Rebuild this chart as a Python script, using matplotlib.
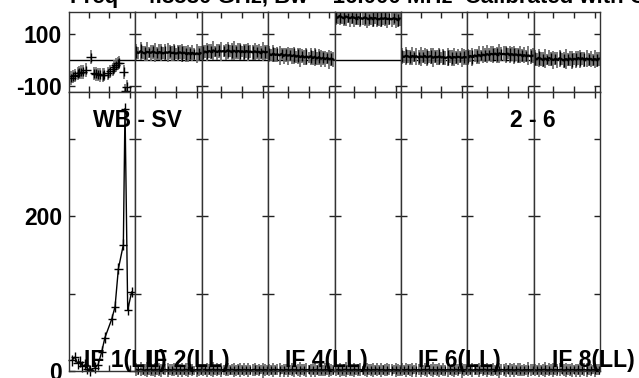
import numpy as np
import matplotlib
matplotlib.use("Agg")
import matplotlib.pyplot as plt

# --- data (8 IFs, 32 channels each) ---
if_names = ["IF 1(LL)", "IF 2(LL)", "IF 3(LL)", "IF 4(LL)",
            "IF 5(LL)", "IF 6(LL)", "IF 7(LL)", "IF 8(LL)"]
channels = np.arange(1, 33)

# IF 1 is odd: few points, big peak near the band edge
if1_amp_chan = [2.0, 3.4, 4.6, 5.8, 7.0, 8.2, 9.4, 10.6, 13.0, 14.5, 16.3, 17.8,
                21.1, 22.7, 24.3, 26.7, 27.5, 28.8, 30.7]
if1_amp = [14, 18, 10, 12, 6, 8, 3, 1, 4, 8, 25, 43, 67, 83, 132, 163, 339, 79, 102]
if1_ph_chan = [1.5, 2.5, 3.5, 4.7, 5.5, 6.5, 7.1, 8.7, 11.1, 12.7, 13.5, 14.3, 15.5,
               16.7, 17.5, 19.1, 20.3, 21.5, 22.3, 23.1, 24.0, 24.7, 26.9, 28.4, 27.6]
if1_phase = [-68, -62, -58, -50, -47, -45, -44, -37, 12, -50, -52, -54, -56, -57, -55,
             -50, -42, -35, -26, -18, -12, -9, -44, -101, -118]

phase_if2 = [32, 28, 35, 30, 27, 33, 31, 29, 34, 30, 28, 32, 30, 27, 31, 29,
             33, 28, 30, 26, 29, 31, 27, 30, 25, 28, 26, 29, 24, 27, 25, 28]
phase_if3 = [30, 34, 31, 36, 33, 38, 35, 32, 37, 34, 36, 33, 38, 35, 34, 37,
             33, 36, 34, 35, 32, 36, 33, 34, 31, 35, 32, 33, 30, 34, 31, 32]
phase_if4 = [24, 20, 26, 21, 23, 19, 25, 17, 22, 18, 21, 16, 20, 14, 18, 12,
             17, 11, 15, 10, 16, 8, 14, 7, 12, 6, 10, 5, 9, 4, 7, 3]
phase_if5 = [168, 164, 171, 166, 163, 169, 165, 162, 167, 164, 161, 166, 163, 160, 165, 162,
             159, 164, 161, 163, 160, 158, 162, 160, 163, 159, 161, 158, 162, 160, 157, 161]
phase_if6 = [16, 13, 18, 15, 12, 17, 14, 16, 11, 15, 13, 17, 12, 14, 16, 10,
             14, 12, 15, 11, 13, 9, 12, 14, 10, 13, 11, 14, 12, 10, 13, 12]
phase_if7 = [14, 17, 13, 19, 16, 21, 18, 22, 20, 24, 21, 25, 23, 26, 22, 27,
             24, 25, 23, 26, 22, 24, 21, 23, 19, 22, 18, 20, 17, 19, 16, 18]
phase_if8 = [8, 4, 10, 6, 2, 7, 3, 9, 5, 1, 6, 2, 8, 4, 0, 5,
             3, 7, 2, 6, 4, 9, 5, 8, 3, 7, 4, 6, 2, 5, 3, 6]

amp_if2 = [1.8, 1.2, 2.1, 1.5, 0.9, 1.7, 1.3, 2.0, 1.1, 1.6, 1.4, 1.9, 1.0, 1.5, 1.8, 1.2,
           1.6, 1.1, 1.9, 1.4, 1.3, 1.7, 1.0, 1.5, 1.8, 1.2, 1.6, 1.4, 1.1, 1.7, 1.3, 1.5]
amp_if3 = [1.4, 1.9, 1.1, 1.6, 1.3, 2.0, 1.2, 1.7, 1.5, 1.0, 1.8, 1.3, 1.6, 1.2, 1.9, 1.4,
           1.1, 1.7, 1.5, 1.2, 1.8, 1.3, 1.6, 1.0, 1.5, 1.9, 1.2, 1.4, 1.7, 1.1, 1.6, 1.3]
amp_if4 = [1.6, 1.1, 1.8, 1.3, 1.9, 1.2, 1.5, 1.0, 1.7, 1.4, 1.2, 1.8, 1.3, 1.6, 1.1, 1.5,
           1.9, 1.2, 1.4, 1.7, 1.0, 1.6, 1.3, 1.8, 1.2, 1.5, 1.1, 1.7, 1.4, 1.2, 1.6, 1.3]
amp_if5 = [1.2, 1.7, 1.4, 1.0, 1.6, 1.9, 1.3, 1.5, 1.1, 1.8, 1.4, 1.2, 1.7, 1.0, 1.5, 1.3,
           1.8, 1.1, 1.6, 1.4, 1.9, 1.2, 1.5, 1.7, 1.0, 1.4, 1.6, 1.2, 1.8, 1.3, 1.5, 1.1]
amp_if6 = [1.7, 1.3, 1.5, 1.9, 1.1, 1.4, 1.8, 1.2, 1.6, 1.0, 1.5, 1.7, 1.3, 1.9, 1.2, 1.6,
           1.4, 1.0, 1.8, 1.3, 1.5, 1.1, 1.7, 1.4, 1.6, 1.2, 1.9, 1.3, 1.5, 1.0, 1.4, 1.7]
amp_if7 = [1.3, 1.8, 1.0, 1.5, 1.7, 1.2, 1.6, 1.4, 1.9, 1.1, 1.3, 1.6, 1.8, 1.2, 1.5, 1.0,
           1.7, 1.4, 1.2, 1.9, 1.3, 1.6, 1.1, 1.5, 1.8, 1.4, 1.0, 1.6, 1.3, 1.7, 1.2, 1.5]
amp_if8 = [1.5, 1.0, 1.7, 1.3, 1.6, 1.9, 1.2, 1.4, 1.8, 1.1, 1.6, 1.3, 1.5, 1.7, 1.0, 1.4,
           1.8, 1.2, 1.6, 1.5, 1.1, 1.9, 1.3, 1.4, 1.7, 1.2, 1.5, 1.0, 1.6, 1.3, 1.8, 1.4]

# shared error-bar lengths per channel (phase in deg, amplitude)
phase_err = [30, 24, 34, 26, 29, 36, 22, 32, 27, 35, 25, 30, 33, 23, 31, 37,
             26, 29, 34, 22, 32, 27, 35, 25, 30, 33, 26, 31, 24, 36, 29, 28]
amp_err = [8.0, 6.5, 9.0, 7.0, 7.5, 9.5, 6.0, 8.5, 7.0, 9.0, 6.5, 8.0, 8.5, 6.0, 7.5, 9.5,
           7.0, 7.5, 9.0, 6.0, 8.5, 7.0, 9.0, 6.5, 8.0, 8.5, 7.0, 8.0, 6.0, 9.5, 7.5, 7.0]

title = "Freq = 4.8580 GHz, Bw = 16.000 MHz  Calibrated with CL 2"
source_label = "WB - SV"
baseline_label = "2 - 6"
shown_labels = [0, 1, 3, 5, 7]  # the odd IF names are not drawn in the original

W, H = 639, 378
FONT = dict(family="Liberation Sans", weight="bold", size=16.5)
GREY = "#6e6e6e"


def fx(x):
    return x / W


def fy(y):
    return 1 - y / H


def style_axes(ax, yticks, ylabels, show_labels):
    ax.set_xlim(0.5, 32.5)
    ax.set_xticks([10, 20, 30])
    ax.set_yticks(yticks)
    ax.tick_params(axis="both", which="both", direction="in", length=4, width=1,
                   top=True, right=True, labelbottom=False, color="#222222")
    if show_labels:
        ax.set_yticklabels(ylabels, fontdict=FONT)
        ax.tick_params(axis="y", pad=5)
    else:
        ax.tick_params(axis="y", labelleft=False)
    for sp in ax.spines.values():
        sp.set_color("#333333")
        sp.set_linewidth(1)


def unclip(eb):
    for art in eb.lines[2]:
        art.set_clip_on(False)


def main():
    fig = plt.figure(figsize=(W / 100, H / 100), dpi=100)

    left = 69.0
    pw = (600.0 - 69.0) / 8
    top_y0, top_y1 = 12.3, 92.3
    bot_y1 = 371.0

    phases = [None, phase_if2, phase_if3, phase_if4, phase_if5, phase_if6, phase_if7, phase_if8]
    amps = [None, amp_if2, amp_if3, amp_if4, amp_if5, amp_if6, amp_if7, amp_if8]

    for i in range(8):
        x0 = left + i * pw
        ax_ph = fig.add_axes([fx(x0), fy(top_y1), pw / W, (top_y1 - top_y0) / H])
        ax_am = fig.add_axes([fx(x0), fy(bot_y1), pw / W, (bot_y1 - top_y1) / H])

        ax_ph.axhline(0, color="black", lw=1, zorder=1)

        if i == 0:
            # phase: loose crosses, fairly dense
            ax_ph.errorbar(if1_ph_chan, if1_phase, yerr=26, fmt="none",
                           ecolor=GREY, elinewidth=1.2, capsize=0)
            ax_ph.errorbar(if1_ph_chan, if1_phase, yerr=17, xerr=2.2, fmt="none",
                           ecolor="black", elinewidth=1.0, capsize=0)
            # amplitude: connected crosses
            ax_am.plot(if1_amp_chan, if1_amp, color="black", lw=1)
            eb = ax_am.errorbar(if1_amp_chan, if1_amp, yerr=7, xerr=2.0, fmt="none",
                                ecolor="black", elinewidth=1.0, capsize=0)
            unclip(eb)
        else:
            ph = phases[i]
            am = amps[i]
            ax_ph.errorbar(channels, ph, yerr=phase_err, fmt="none", ecolor=GREY,
                           elinewidth=1.3, capsize=0)
            ax_ph.errorbar(channels[::2], ph[::2], yerr=np.array(phase_err[::2]) * 0.8,
                           xerr=0.7, fmt="none", ecolor="black", elinewidth=1.0, capsize=0)
            ax_ph.plot(channels, ph, color="black", lw=1.6)

            eb = ax_am.errorbar(channels, am, yerr=amp_err, fmt="none", ecolor=GREY,
                                elinewidth=1.3, capsize=0)
            unclip(eb)
            eb2 = ax_am.errorbar(channels[1::2], am[1::2], yerr=5.5, fmt="none",
                                 ecolor="black", elinewidth=0.9, capsize=0)
            unclip(eb2)
            ax_am.plot(channels, am, color="black", lw=1.3, clip_on=False)

        ax_ph.set_ylim(-123, 185)
        ax_am.set_ylim(0, 360)
        style_axes(ax_ph, [-100, 100], ["-100", "100"], i == 0)
        style_axes(ax_am, [0, 100, 200, 300], ["0", "", "200", ""], i == 0)

    # text from the original plot (title is cut off by the top edge)
    fig.text(fx(70), fy(3.5), title, ha="left", va="baseline",
             fontdict=dict(FONT, size=16))
    fig.text(fx(92.7), fy(126.7), source_label, ha="left", va="baseline", fontdict=FONT)
    fig.text(fx(510), fy(126.7), baseline_label, ha="left", va="baseline", fontdict=FONT)
    label_x = [84, 147, 0, 285, 0, 418, 0, 551.7]
    for k in shown_labels:
        fig.text(fx(label_x[k]), fy(367), if_names[k], ha="left", va="baseline",
                 fontdict=FONT)

    fig.savefig("out.png", dpi=100)


if __name__ == "__main__":
    main()
